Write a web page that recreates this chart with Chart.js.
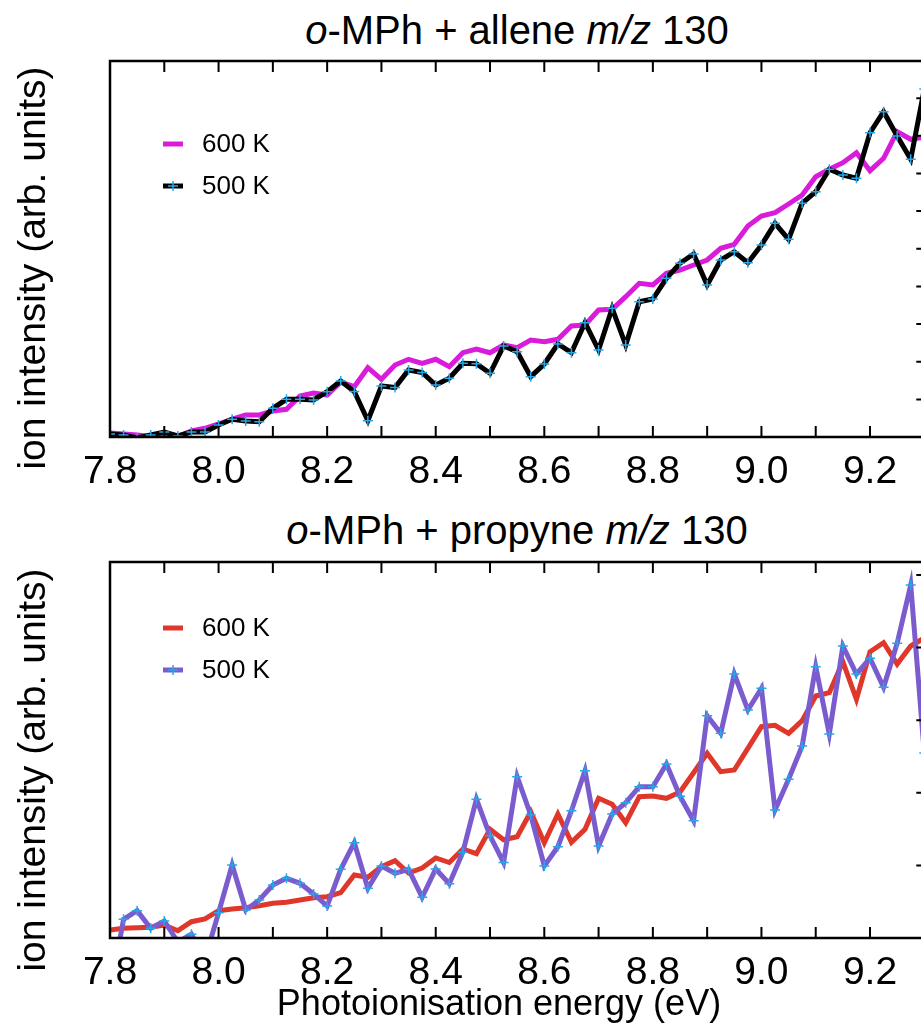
<!DOCTYPE html>
<html lang="en">
<head>
<meta charset="UTF-8">
<title>o-MPh m/z 130</title>
<script src="https://cdn.jsdelivr.net/npm/chart.js"></script>
<style>
    html, body { margin: 0; padding: 0; overflow: hidden; background: #fff; }
    #wrap { position: relative; width: 921px; height: 1027px; overflow: hidden; }
    canvas { position: absolute; left: 0; }
    .txt { position: absolute; font-family: "Liberation Sans", Arial, sans-serif; color: #000; white-space: nowrap; }
    .title { left: 0; width: 1034px; text-align: center; font-size: 40px; line-height: 40px; }
    .ylab { width: 500px; height: 40px; line-height: 40px; font-size: 39px; text-align: center; transform: rotate(-90deg); }
    .xlab { left: 0; width: 998px; text-align: center; font-size: 36px; line-height: 36px; }
</style>
<script>
    // photon energy grid (eV)
    const energy = [7.8, 7.825, 7.85, 7.875, 7.9, 7.925, 7.95, 7.975, 8.0, 8.025,
                    8.05, 8.075, 8.1, 8.125, 8.15, 8.175, 8.2, 8.225, 8.25, 8.275,
                    8.3, 8.325, 8.35, 8.375, 8.4, 8.425, 8.45, 8.475, 8.5, 8.525,
                    8.55, 8.575, 8.6, 8.625, 8.65, 8.675, 8.7, 8.725, 8.75, 8.775,
                    8.8, 8.825, 8.85, 8.875, 8.9, 8.925, 8.95, 8.975, 9.0, 9.025,
                    9.05, 9.075, 9.1, 9.125, 9.15, 9.175, 9.2, 9.225, 9.25, 9.275, 9.3];

    // o-MPh + allene, m/z 130 (arb. units)
    const allene600 = [4, 3, 2, 0.5, 0.5, 0.5, 6, 8.7, 13, 18,
                       22, 22, 26, 27.7, 41, 44, 42, 55, 50.3, 69.3,
                       57.7, 72, 77.7, 73.7, 77.7, 70.3, 84.3, 88, 84.3, 92,
                       89.3, 97, 95.3, 97.7, 111, 112, 127, 127.7, 140.3, 153.7,
                       152, 163.7, 167, 172, 177, 188.7, 192.7, 211, 221, 224.3,
                       233, 242, 260.3, 267.7, 274.3, 284.3, 266.3, 278.7, 305.3, 297.7, 300];
    const allene500 = [3, 2, -1, 2, 5, 1, 5, 5, 12, 17.7,
                       16, 15.3, 28.7, 37.7, 37.7, 37, 45.3, 56, 45.5, 16.3,
                       51, 49.5, 67, 64.5, 52, 58.7, 73.7, 73.3, 63.7, 91,
                       85.3, 60.3, 73, 93, 84.3, 114.3, 87, 128.7, 92, 135.3,
                       138, 158.7, 173.7, 183, 152, 177, 185.3, 174.3, 192, 213.7,
                       197.7, 233.7, 245.3, 267.7, 262, 258.7, 304.3, 325.3, 301, 277.7, 348];

    // o-MPh + propyne, m/z 130 (arb. units)
    const propyne600 = [8, 9.7, 10.3, 10.7, 13, 7.3, 16.3, 19, 27.3, 29,
                        30.3, 32.3, 34.7, 35.7, 38, 40.3, 41.3, 45.3, 63, 60.7,
                        71.3, 77.3, 65, 70, 80, 75.5, 89, 84.3, 108.8, 98.3,
                        101.3, 126.3, 95.3, 124, 95.7, 108.7, 139.7, 133.7, 115.3, 141.3,
                        142, 139.7, 146, 165.3, 184.7, 166.3, 168, 189.7, 211.3, 212.7,
                        204.7, 217.3, 242, 245.3, 276.3, 238.7, 286.3, 295.3, 274, 292, 300];
    const propyne500 = [-55, 18.7, 27.3, 9.7, 17, -4, 3.7, -21, 25.3, 73,
                        28, 38, 53, 59.7, 54.7, 44, 32, 68.7, 95.3, 49.7,
                        72, 64.7, 68.7, 40.7, 69, 54.3, 85.8, 138.8, 102.2, 75.5,
                        161.3, 123, 72, 91.3, 127.3, 167.3, 92, 124, 135.3, 151.3,
                        151.3, 174, 141.7, 117.3, 222.3, 204.7, 264, 228, 249.7, 128,
                        158.7, 192, 271.3, 204, 292, 264, 279.7, 250.7, 294.7, 353, 185];

    const tickLabels = [7.8, 8.0, 8.2, 8.4, 8.6, 8.8, 9.0, 9.2];
    const tickMarks = [7.9, 8.0, 8.1, 8.2, 8.3, 8.4, 8.5, 8.6, 8.7, 8.8, 8.9, 9.0, 9.1, 9.2];
    const rightTicksTop = [37.6, 75.3, 112.9, 150.6, 188.2, 225.9, 263.5, 301.2, 338.8];
    const rightTicksBottom = [72.6, 145.2, 217.8, 290.4, 363];

    const cyan = '#27a7e7';

    // frame, inward ticks and legend inside the plot
    const framePlugin = {
        id: 'frame',
        afterDatasetsDraw(chart, args, opts) {
            const ctx = chart.ctx;
            const a = chart.chartArea;
            const x = chart.scales.x, y = chart.scales.y;
            ctx.save();
            ctx.strokeStyle = '#000';
            ctx.lineWidth = 2.5;
            ctx.strokeRect(a.left, a.top, a.right - a.left, a.bottom - a.top);
            ctx.lineWidth = 2;
            ctx.beginPath();
            tickMarks.forEach(function(v){
                const px = x.getPixelForValue(v);
                ctx.moveTo(px, a.bottom); ctx.lineTo(px, a.bottom - 11);
                ctx.moveTo(px, a.top); ctx.lineTo(px, a.top + 11);
            });
            opts.rightTicks.forEach(function(v){
                const py = y.getPixelForValue(v);
                ctx.moveTo(a.right, py); ctx.lineTo(a.right - 8, py);
            });
            ctx.stroke();

            // legend
            ctx.font = '26px "Liberation Sans", Arial, sans-serif';
            ctx.textBaseline = 'middle';
            ctx.textAlign = 'left';
            opts.legendOrder.forEach(function(di, k){
                const ds = chart.data.datasets[di];
                const ly = a.top + opts.legendY[k];
                const lx = a.left + 53;
                ctx.strokeStyle = ds.borderColor;
                ctx.lineWidth = 5;
                ctx.beginPath();
                ctx.moveTo(lx, ly); ctx.lineTo(lx + 20, ly);
                ctx.stroke();
                if (ds.pointRadius > 0) {
                    ctx.strokeStyle = cyan;
                    ctx.lineWidth = 1.5;
                    ctx.beginPath();
                    ctx.moveTo(lx + 10 - 5, ly); ctx.lineTo(lx + 10 + 5, ly);
                    ctx.moveTo(lx + 10, ly - 5); ctx.lineTo(lx + 10, ly + 5);
                    ctx.stroke();
                }
                ctx.fillStyle = '#000';
                ctx.fillText(ds.label, a.left + 92, ly + 1);
            });
            ctx.restore();
        }
    };

    function makeChart(id, hot, cold, hotColor, coldColor, pad, opts) {
        const ctx = document.getElementById(id);
        return new Chart(ctx, {
            type: 'line',
            data: {
                datasets: [{
                    label: '500 K',
                    data: energy.map(function(e, i){ return {x: e, y: cold[i]}; }),
                    borderColor: coldColor,
                    borderWidth: 5,
                    pointStyle: 'cross',
                    pointRadius: 5,
                    pointBorderColor: cyan,
                    pointBorderWidth: 1.5,
                    order: 0
                }, {
                    label: '600 K',
                    data: energy.map(function(e, i){ return {x: e, y: hot[i]}; }),
                    borderColor: hotColor,
                    borderWidth: 5,
                    pointRadius: 0,
                    order: 1
                }]
            },
            options: {
                responsive: false,
                animation: false,
                devicePixelRatio: 1,
                layout: { padding: pad },
                elements: { line: { tension: 0, borderJoinStyle: 'miter' } },
                scales: {
                    x: {
                        type: 'linear',
                        min: 7.8, max: 9.3,
                        grid: { display: false },
                        border: { display: false },
                        afterBuildTicks: function(s){ s.ticks = tickLabels.map(function(v){ return {value: v}; }); },
                        afterFit: function(s){ s.height = 60; },
                        ticks: {
                            autoSkip: false, maxRotation: 0, padding: 4,
                            color: '#000',
                            font: { family: '"Liberation Sans", Arial, sans-serif', size: 39 },
                            callback: function(v){ return Number(v).toFixed(1); }
                        }
                    },
                    y: { display: false, min: 0, max: 376 }
                },
                plugins: {
                    legend: { display: false },
                    tooltip: { enabled: false },
                    frame: opts
                }
            },
            plugins: [framePlugin]
        });
    }

    window.addEventListener('load', function(){
        makeChart('topChart', allene600, allene500, '#d91cd9', '#000000',
                  {left: 110, right: 15.7, top: 61, bottom: 3},
                  {rightTicks: rightTicksTop, legendOrder: [1, 0], legendY: [83, 125]});
        makeChart('bottomChart', propyne600, propyne500, '#e0372b', '#7a5cce',
                  {left: 110, right: 15.7, top: 62, bottom: 29},
                  {rightTicks: rightTicksBottom, legendOrder: [1, 0], legendY: [66, 108]});
    });
</script>
</head>
<body>
<div id="wrap">
    <div class="txt title" style="top: 10px;"><i>o</i>-MPh + allene <i>m/z</i> 130</div>
    <canvas id="topChart" width="940" height="500" style="top: 0;"></canvas>
    <div class="txt title" style="top: 510px;"><i>o</i>-MPh + propyne <i>m/z</i> 130</div>
    <canvas id="bottomChart" width="940" height="527" style="top: 500px;"></canvas>
    <div class="txt ylab" style="left: -218px; top: 248px;">ion intensity (arb. units)</div>
    <div class="txt ylab" style="left: -218px; top: 750px;">ion intensity (arb. units)</div>
    <div class="txt xlab" style="top: 985px;">Photoionisation energy (eV)</div>
</div>
</body>
</html>
